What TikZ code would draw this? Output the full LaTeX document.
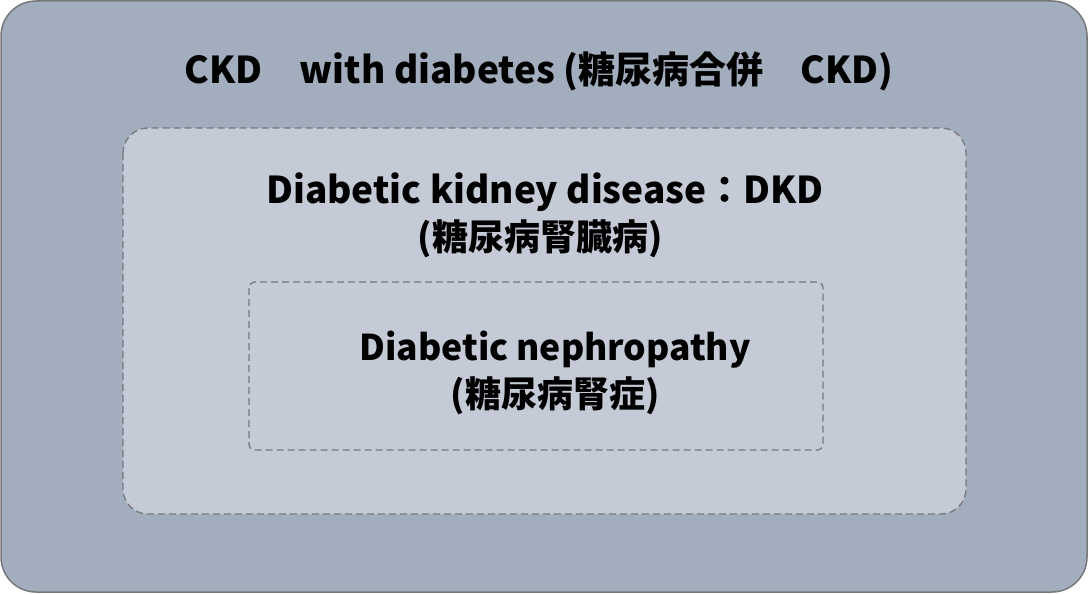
\documentclass[tikz,border=0pt]{standalone}
\usepackage{fontspec}
\setmainfont{Noto Sans CJK JP}
\definecolor{outerfill}{HTML}{A2ADBD}
\definecolor{innerfill}{HTML}{C5CBD6}
\definecolor{edgegray}{HTML}{77777C}
\begin{document}
\begin{tikzpicture}[x=1pt,y=-1pt,
  outerbox/.style={draw=edgegray,line width=1.5pt,fill=outerfill,rounded corners=35pt},
  dashbox/.style={draw=edgegray,line width=1.3pt,dash pattern=on 7pt off 4pt,fill=innerfill},
  lbl/.style={font=\bfseries\fontsize{36}{44}\selectfont,text=black,align=center,inner sep=0pt}]
\useasboundingbox (0,0) rectangle (1089,594);
\draw[outerbox] (1,1) rectangle (1087,592);
\draw[dashbox,rounded corners=25pt] (123,128) rectangle (966,514);
\draw[dashbox,rounded corners=6pt] (249,282) rectangle (823,450);
\node[lbl,font=\bfseries\fontsize{37}{44}\selectfont] (t1) at (539,71) {CKD\hspace{1em}with diabetes (糖尿病合併\hspace{1em}CKD)};
\node[lbl,font=\bfseries\fontsize{37}{44}\selectfont] (t2) at (545,192) {Diabetic kidney disease：DKD};
\node[lbl] (t3) at (540,239) {(糖尿病腎臓病)};
\node[lbl,font=\bfseries\fontsize{35.5}{44}\selectfont] (t4) at (555,350) {Diabetic nephropathy};
\node[lbl] (t5) at (555,396) {(糖尿病腎症)};
\end{tikzpicture}
\end{document}
